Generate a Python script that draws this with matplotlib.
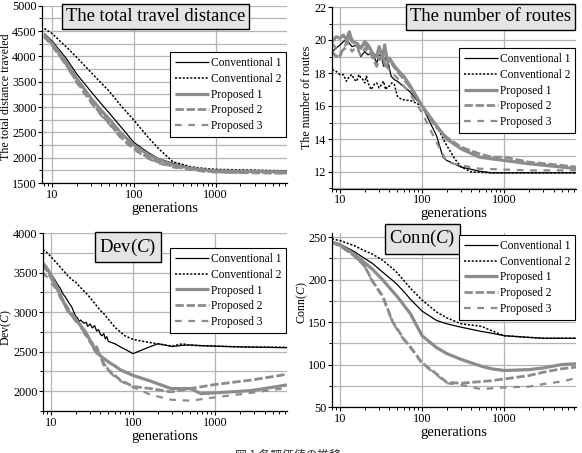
import matplotlib
matplotlib.use('Agg')
import matplotlib.pyplot as plt
from matplotlib.ticker import MultipleLocator, LogLocator, NullFormatter, FixedLocator, FixedFormatter

plt.rcParams['font.family'] = ['Liberation Serif', 'DejaVu Serif']
plt.rcParams['mathtext.fontset'] = 'custom'
plt.rcParams['mathtext.rm'] = 'Liberation Serif'
plt.rcParams['mathtext.it'] = 'Liberation Serif:italic'

series_names = ['Conventional 1', 'Conventional 2', 'Proposed 1', 'Proposed 2', 'Proposed 3']
x_ticks = [10, 100, 1000]
x_tick_labels = ['10', '100', '1000']

# ---- Panel 1: total travel distance ----
dist_gens = [8, 10, 15, 20, 30, 40, 50, 70, 100, 150, 200, 300, 500, 700, 1000, 2000, 4000, 7500]
dist_conv1 = [4450, 4300, 3950, 3650, 3300, 3060, 2880, 2600, 2300, 2100, 1980, 1890, 1800, 1770, 1750, 1740, 1740, 1740]
dist_conv2 = [4550, 4450, 4180, 3980, 3680, 3470, 3310, 3020, 2740, 2400, 2180, 1920, 1820, 1790, 1770, 1760, 1750, 1740]
dist_prop1 = [4420, 4250, 3880, 3560, 3170, 2930, 2760, 2480, 2250, 2060, 1960, 1860, 1790, 1760, 1740, 1730, 1725, 1720]
dist_prop2 = [4400, 4220, 3830, 3500, 3100, 2850, 2680, 2400, 2180, 2000, 1910, 1830, 1770, 1740, 1720, 1705, 1700, 1695]
dist_prop3 = [4380, 4200, 3810, 3480, 3080, 2830, 2660, 2380, 2160, 1980, 1890, 1810, 1760, 1730, 1710, 1700, 1695, 1690]

# ---- Panel 2: number of routes ----
routes_conv1_x = [8, 10, 11, 12, 13, 14, 16, 18, 20, 22, 24, 26, 28, 30, 32, 34, 36, 38, 40, 42, 46, 50, 70, 100, 150, 180, 200, 300, 500, 700, 1000, 2000, 7500]
routes_conv1_y = [19.3, 19.7, 19.9, 20.0, 19.8, 19.6, 19.7, 19.0, 19.3, 19.1, 19.2, 19.0, 18.6, 19.1, 19.0, 18.4, 19.0, 18.8, 18.3, 17.8, 17.6, 17.5, 16.9, 16.0, 14.2, 12.9, 12.7, 12.3, 12.05, 11.95, 11.95, 11.95, 11.95]
routes_conv2_x = [8, 9, 10, 11, 12, 13, 14, 15, 16, 17, 18, 19, 20, 21, 22, 24, 26, 28, 30, 32, 34, 36, 38, 40, 43, 46, 50, 56, 75, 100, 150, 200, 250, 300, 400, 700, 7500]
routes_conv2_y = [18.2, 18.1, 17.9, 17.9, 17.5, 17.8, 17.9, 17.6, 17.5, 17.9, 17.7, 17.6, 17.4, 17.8, 17.4, 17.0, 17.3, 17.4, 17.1, 17.3, 17.5, 17.0, 17.2, 17.2, 17.4, 17.3, 16.6, 16.4, 16.3, 16.0, 14.8, 13.6, 12.8, 12.3, 12.0, 11.95, 11.95]
routes_prop1_x = [8, 9, 10, 11, 12, 13, 14, 16, 18, 20, 22, 25, 28, 30, 33, 35, 38, 40, 45, 50, 60, 70, 100, 150, 200, 300, 500, 700, 1000, 2000, 5000, 7500]
routes_prop1_y = [19.9, 20.2, 20.1, 20.3, 20.0, 20.5, 19.9, 19.8, 19.5, 19.9, 19.7, 19.2, 19.0, 19.6, 18.9, 19.7, 18.7, 18.9, 18.5, 18.2, 17.8, 17.3, 16.0, 14.8, 14.0, 13.4, 12.9, 12.8, 12.7, 12.5, 12.3, 12.2]
routes_prop2_x = [8, 9, 10, 12, 13, 15, 17, 20, 22, 25, 28, 30, 33, 36, 40, 45, 50, 60, 70, 100, 150, 200, 300, 500, 700, 1000, 2000, 5000, 7500]
routes_prop2_y = [19.3, 19.0, 19.2, 19.6, 20.3, 19.8, 19.5, 19.8, 19.4, 19.0, 18.4, 18.8, 19.1, 18.3, 18.8, 18.4, 18.1, 17.6, 17.2, 16.0, 14.7, 14.1, 13.5, 13.1, 12.9, 12.9, 12.6, 12.4, 12.3]
routes_prop3_x = [8, 9, 10, 11, 12, 14, 16, 18, 20, 22, 25, 28, 30, 35, 40, 45, 50, 70, 100, 150, 200, 300, 500, 1000, 2000, 7500]
routes_prop3_y = [19.8, 19.5, 19.0, 19.4, 19.9, 19.3, 19.6, 19.0, 19.5, 19.2, 18.9, 19.3, 18.8, 18.5, 18.2, 17.9, 17.7, 16.8, 15.6, 13.8, 12.6, 12.4, 12.2, 12.15, 12.1, 12.1]

# ---- Panel 3: Dev(C) ----
dev_conv1_x = [8, 9, 10, 11, 12, 13, 14, 15, 16, 17, 18, 19, 20, 21, 22, 23, 25, 27, 28, 30, 32, 34, 36, 38, 40, 42, 44, 46, 48, 50, 60, 70, 80, 100, 150, 200, 300, 400, 500, 700, 1000, 2000, 4000, 7500]
dev_conv1_y = [3630, 3560, 3480, 3420, 3350, 3300, 3230, 3190, 3140, 3100, 3060, 3000, 2950, 2930, 2880, 2900, 2860, 2870, 2820, 2850, 2800, 2830, 2760, 2780, 2720, 2700, 2730, 2660, 2690, 2630, 2600, 2560, 2530, 2475, 2550, 2600, 2565, 2580, 2585, 2575, 2570, 2560, 2555, 2550]
dev_conv2_x = [8, 9, 10, 12, 14, 16, 18, 20, 22, 25, 28, 30, 33, 36, 40, 42, 45, 50, 60, 70, 80, 100, 150, 200, 300, 400, 500, 1000, 2000, 7500]
dev_conv2_y = [3790, 3750, 3700, 3610, 3530, 3460, 3410, 3380, 3330, 3270, 3220, 3180, 3130, 3080, 3020, 3000, 2970, 2910, 2810, 2750, 2700, 2655, 2620, 2600, 2570, 2600, 2580, 2570, 2560, 2555]
dev_prop1_x = [8, 9, 10, 11, 12, 13, 14, 15, 16, 18, 20, 22, 24, 26, 28, 30, 32, 34, 36, 38, 40, 43, 46, 50, 60, 70, 100, 163, 290, 500, 670, 1000, 2750, 5000, 7500]
dev_prop1_y = [3620, 3550, 3470, 3380, 3300, 3220, 3140, 3080, 3020, 2960, 2900, 2860, 2800, 2760, 2700, 2640, 2600, 2520, 2560, 2480, 2450, 2420, 2400, 2370, 2320, 2270, 2200, 2128, 2034, 2034, 1970, 1979, 2008, 2050, 2080]
dev_prop2_x = [8, 9, 10, 12, 14, 16, 18, 20, 22, 24, 26, 28, 30, 33, 36, 40, 44, 48, 50, 60, 70, 100, 163, 290, 500, 1000, 2750, 7500]
dev_prop2_y = [3600, 3520, 3430, 3280, 3150, 3050, 2980, 2920, 2850, 2800, 2720, 2680, 2620, 2560, 2480, 2450, 2330, 2300, 2270, 2200, 2140, 2060, 2034, 1991, 2034, 2085, 2141, 2214]
dev_prop3_x = [8, 9, 10, 11, 12, 14, 16, 18, 20, 22, 25, 28, 30, 33, 36, 40, 44, 48, 50, 60, 70, 100, 163, 290, 500, 1000, 2750, 7500]
dev_prop3_y = [3500, 3440, 3380, 3320, 3250, 3120, 3020, 2960, 2880, 2830, 2760, 2700, 2640, 2580, 2520, 2430, 2360, 2290, 2260, 2180, 2130, 2050, 1957, 1893, 1880, 1923, 1979, 2043]

# ---- Panel 4: Conn(C) ----
conn_gens = [8, 10, 15, 20, 25, 33, 44, 50, 60, 72, 100, 150, 200, 300, 530, 700, 1000, 2000, 3000, 5000, 7500]
conn_conv1 = [245, 242, 233, 225, 219, 209, 199, 194, 186, 177, 163, 152, 148, 144, 139, 137, 134, 132, 131, 131, 131]
conn_conv2 = [248, 246, 240, 234, 230, 223, 213, 208, 199, 190, 176, 162, 155, 148, 145, 140, 134, 132, 131, 131, 131]
conn_prop1 = [244, 241, 230, 220, 212, 200, 186, 180, 170, 160, 134, 120, 113, 106, 98, 95, 93, 94, 96, 100, 101]
conn_prop2 = [244, 240, 228, 216, 198, 181, 150, 142, 130, 121, 102, 89, 79, 78, 80, 81, 83, 87, 91, 95, 97]
conn_prop3 = [244, 240, 228, 216, 197, 180, 149, 141, 129, 120, 101, 88, 78, 76, 71, 72, 73, 74, 77, 80, 84]

gray = '#8c8c8c'
styles = [
    dict(color='black', lw=0.9, ls='-'),
    dict(color='black', lw=1.1, ls=(0, (1.4, 1.1))),
    dict(color=gray, lw=2.3, ls='-'),
    dict(color=gray, lw=2.0, ls=(0, (3.0, 1.0))),
    dict(color=gray, lw=1.6, ls=(0, (3.0, 3.0))),
]

W, H = 582, 453
fig = plt.figure(figsize=(W / 100, H / 100), dpi=100)


def add_ax(l, r, t, b):
    return fig.add_axes([l / W, 1 - b / H, (r - l) / W, (b - t) / H])


def setup(ax, xlim, ylim, major, minor, ylabel, ylab_xy, title, title_xy, leg_top, series):
    ax.set_xscale('log')
    for (xs, ys), st, name in zip(series, styles, series_names):
        ax.plot(xs, ys, label=name, solid_capstyle='butt', **st)
    ax.set_xlim(*xlim)
    ax.set_ylim(*ylim)
    ax.yaxis.set_major_locator(MultipleLocator(major))
    ax.yaxis.set_minor_locator(MultipleLocator(minor))
    ax.xaxis.set_major_locator(FixedLocator(x_ticks))
    ax.xaxis.set_major_formatter(FixedFormatter(x_tick_labels))
    ax.xaxis.set_minor_locator(LogLocator(base=10, subs=[2, 3, 4, 5, 6, 7, 8, 9]))
    ax.xaxis.set_minor_formatter(NullFormatter())
    ax.grid(which='major', axis='x', color='#b4b4b4', lw=0.9)
    ax.grid(which='both', axis='y', color='#b4b4b4', lw=0.9)
    ax.set_axisbelow(True)
    for s in ['top', 'right']:
        ax.spines[s].set_visible(False)
    for s in ['left', 'bottom']:
        ax.spines[s].set_linewidth(0.9)
    ax.tick_params(which='major', direction='out', length=3.0, width=0.8, labelsize=8.8, pad=1)
    ax.tick_params(which='minor', direction='out', length=2.0, width=0.7)
    ax.set_xlabel('generations', fontsize=10.5, labelpad=1)
    ax.set_ylabel(ylabel, fontsize=8.6, va='center')
    ax.yaxis.set_label_coords(*ylab_xy)
    ax.text(title_xy[0], title_xy[1], title, transform=ax.transAxes, ha='center', va='center',
            fontsize=13.4, zorder=10,
            bbox=dict(boxstyle='square,pad=0.22', fc='#e4e4e4', ec='black', lw=1.0))
    leg = ax.legend(loc='upper right', bbox_to_anchor=(0.997, leg_top), fontsize=8.3,
                    frameon=True, fancybox=False, edgecolor='black', framealpha=1,
                    handlelength=3.0, handletextpad=0.1, labelspacing=0.32,
                    borderpad=0.45, borderaxespad=0)
    leg.get_frame().set_linewidth(0.8)
    leg.set_zorder(11)


ax1 = add_ax(42, 287, 5.7, 183)
ax2 = add_ax(332, 576, 7, 188.5)
ax3 = add_ax(43, 287, 233, 411)
ax4 = add_ax(332, 576, 233, 407)

setup(ax1, (7.5, 7500), (1500, 5000), 500, 250, 'The total distance traveled', (-0.147, 0.488),
      'The total travel distance', (0.463, 0.939), 0.739,
      [(dist_gens, dist_conv1), (dist_gens, dist_conv2), (dist_gens, dist_prop1),
       (dist_gens, dist_prop2), (dist_gens, dist_prop3)])
setup(ax2, (8, 7500), (11, 22), 2, 1, 'The number of routes', (-0.102, 0.5),
      'The number of routes', (0.648, 0.945), 0.774,
      [(routes_conv1_x, routes_conv1_y), (routes_conv2_x, routes_conv2_y),
       (routes_prop1_x, routes_prop1_y), (routes_prop2_x, routes_prop2_y),
       (routes_prop3_x, routes_prop3_y)])
setup(ax3, (8, 7500), (1750, 4000), 500, 250, 'Dev($C$)', (-0.149, 0.47),
      'Dev($C$)', (0.348, 0.921), 0.916,
      [(dev_conv1_x, dev_conv1_y), (dev_conv2_x, dev_conv2_y), (dev_prop1_x, dev_prop1_y),
       (dev_prop2_x, dev_prop2_y), (dev_prop3_x, dev_prop3_y)])
setup(ax4, (8, 7500), (50, 255), 50, 25, 'Conn($C$)', (-0.123, 0.6),
      'Conn($C$)', (0.371, 0.966), 0.989,
      [(conn_gens, conn_conv1), (conn_gens, conn_conv2), (conn_gens, conn_prop1),
       (conn_gens, conn_prop2), (conn_gens, conn_prop3)])

fig.text(288 / W, -2 / H, '図 1 各評価値の推移', ha='center', va='center', fontsize=8.5,
         family=['Noto Sans CJK JP', 'DejaVu Sans'], color='#333333')

fig.savefig('out.png', dpi=100)
